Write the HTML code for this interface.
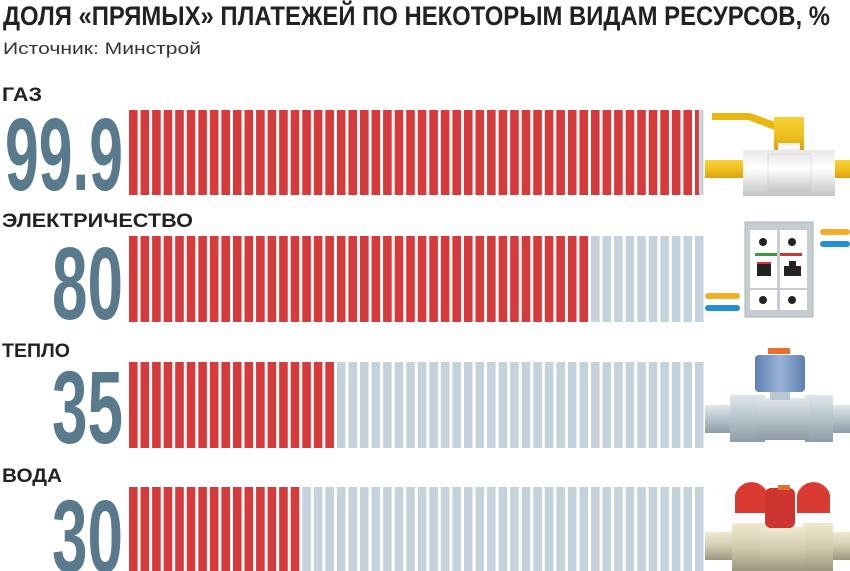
<!DOCTYPE html>
<html><head><meta charset="utf-8"><style>
html,body{margin:0;padding:0;background:#fff;width:850px;height:571px;overflow:hidden}
svg{display:block}
text{font-family:"Liberation Sans","DejaVu Sans",sans-serif}
</style></head><body>
<svg width="850" height="571" viewBox="0 0 850 571" xmlns="http://www.w3.org/2000/svg">
<defs>
<linearGradient id="yel" x1="0" y1="0" x2="0" y2="1"><stop offset="0" stop-color="#f5d23a"/><stop offset="0.5" stop-color="#f0c020"/><stop offset="1" stop-color="#d9a30a"/></linearGradient>
<linearGradient id="wht" x1="0" y1="0" x2="0" y2="1"><stop offset="0" stop-color="#e8e8e8"/><stop offset="0.4" stop-color="#ffffff"/><stop offset="1" stop-color="#c4c4c4"/></linearGradient>
<linearGradient id="gry" x1="0" y1="0" x2="0" y2="1"><stop offset="0" stop-color="#dfe6ea"/><stop offset="0.5" stop-color="#b6c3cb"/><stop offset="1" stop-color="#8d9ca6"/></linearGradient>
<linearGradient id="bei" x1="0" y1="0" x2="0" y2="1"><stop offset="0" stop-color="#eee8cf"/><stop offset="0.5" stop-color="#d2ccb0"/><stop offset="1" stop-color="#9c977f"/></linearGradient>
<linearGradient id="blu" x1="0" y1="0" x2="1" y2="0"><stop offset="0" stop-color="#5d7fb0"/><stop offset="0.5" stop-color="#9ab3d6"/><stop offset="1" stop-color="#5d7fb0"/></linearGradient>
</defs>
<text x="3" y="25" font-size="27" font-weight="bold" fill="#222" textLength="827" lengthAdjust="spacingAndGlyphs">ДОЛЯ «ПРЯМЫХ» ПЛАТЕЖЕЙ ПО НЕКОТОРЫМ ВИДАМ РЕСУРСОВ, %</text>
<text x="3" y="54" font-size="17" fill="#333" textLength="198" lengthAdjust="spacingAndGlyphs">Источник: Минстрой</text>

<text x="2" y="101" font-size="19" font-weight="bold" fill="#222" textLength="40" lengthAdjust="spacingAndGlyphs">ГАЗ</text>
<text x="2" y="227" font-size="19" font-weight="bold" fill="#222" textLength="191" lengthAdjust="spacingAndGlyphs">ЭЛЕКТРИЧЕСТВО</text>
<text x="2" y="357" font-size="19" font-weight="bold" fill="#222" textLength="68" lengthAdjust="spacingAndGlyphs">ТЕПЛО</text>
<text x="2" y="482" font-size="19" font-weight="bold" fill="#222" textLength="60" lengthAdjust="spacingAndGlyphs">ВОДА</text>

<g font-size="103" font-weight="bold" fill="#587a8c">
<text x="5" y="190" textLength="118" lengthAdjust="spacingAndGlyphs">99.9</text>
<text x="52" y="319" textLength="71" lengthAdjust="spacingAndGlyphs">80</text>
<text x="52" y="443" textLength="71" lengthAdjust="spacingAndGlyphs">35</text>
<text x="52" y="572" textLength="71" lengthAdjust="spacingAndGlyphs">30</text>
</g>

<g id="bars"></g>

<!-- gas icon -->
<rect x="705" y="160" width="145" height="18" fill="url(#yel)"/>
<path d="M712 113 L750 113 L778 123 L775 130 L748 120 L712 120 Z" fill="#e8b810"/>
<rect x="774" y="117" width="30" height="35" fill="url(#yel)"/>
<rect x="778" y="143" width="22" height="12" fill="url(#wht)"/>
<rect x="743" y="150" width="92" height="46" fill="url(#wht)"/>
<rect x="768" y="154" width="43" height="38" fill="url(#wht)" stroke="#ccc" stroke-width="0.5"/>

<!-- electric icon -->
<rect x="705" y="293" width="35" height="6" rx="3" fill="#f2b027"/>
<rect x="705" y="305" width="35" height="6" rx="3" fill="#2590d0"/>
<rect x="820" y="229" width="30" height="6" rx="3" fill="#f2b027"/>
<rect x="820" y="241" width="30" height="6" rx="3" fill="#2590d0"/>
<rect x="745" y="222" width="68" height="95" fill="#c5ccd2" stroke="#aab3ba"/>
<rect x="750" y="230" width="27" height="80" fill="#fff"/>
<rect x="780" y="230" width="27" height="80" fill="#fff"/>
<rect x="745" y="288" width="68" height="2" fill="#c5ccd2"/>
<circle cx="763" cy="242" r="4" fill="#222"/><circle cx="792" cy="242" r="4" fill="#222"/>
<circle cx="763" cy="300" r="4" fill="#222"/><circle cx="792" cy="300" r="4" fill="#222"/>
<rect x="755" y="253" width="22" height="3" fill="#3a9a3a"/><rect x="780" y="253" width="22" height="3" fill="#cc3333"/>
<rect x="757" y="262" width="14" height="14" fill="#222"/><rect x="757" y="262" width="14" height="2" fill="#e03040"/>
<path d="M784 276 L784 266 L789 266 L789 261 L796 261 L796 266 L801 266 L801 276 Z" fill="#222"/>

<!-- heat icon -->
<rect x="705" y="405" width="145" height="28" fill="url(#gry)"/>
<rect x="730" y="395" width="35" height="47" fill="url(#gry)"/>
<rect x="805" y="395" width="28" height="47" fill="url(#gry)"/>
<rect x="757" y="398" width="52" height="42" fill="url(#gry)"/>
<rect x="770" y="390" width="20" height="10" fill="#b8c8d2"/>
<rect x="755" y="355" width="50" height="37" rx="4" fill="url(#blu)"/>
<rect x="768" y="348" width="22" height="6" fill="#e8702a"/>

<!-- water icon -->
<rect x="705" y="532" width="145" height="28" fill="url(#bei)"/>
<rect x="732" y="523" width="35" height="48" fill="url(#bei)"/>
<rect x="803" y="523" width="30" height="48" fill="url(#bei)"/>
<rect x="760" y="527" width="45" height="44" fill="url(#bei)"/>
<path d="M735 513 L735 495 A17 17 0 0 1 768 495 L768 513 Z" fill="#d93a32"/>
<path d="M797 513 L797 495 A17 17 0 0 1 830 495 L830 513 Z" fill="#d93a32"/>
<rect x="765" y="488" width="30" height="40" rx="6" fill="#cf3530"/>
<rect x="778" y="485" width="12" height="5" fill="#e8702a"/>
</svg>
<script>
var g=document.getElementById('bars'),ns='http://www.w3.org/2000/svg';
var rows=[[110,195,49.95],[236,322,40],[362,448,17.5],[487,571,15]];
rows.forEach(function(r){
 for(var i=0;i<50;i++){
  var x=129+i*11.55;
  var red=i+1<=r[2]+0.001;
  var half=!red && i<r[2];
  var e=document.createElementNS(ns,'rect');
  e.setAttribute('x',x);e.setAttribute('y',r[0]);
  e.setAttribute('width',(i==49&&r[2]>49)?4:8.6);e.setAttribute('height',r[1]-r[0]);
  e.setAttribute('fill',(red||half)?'#d63a3a':'#c4d2db');
  g.appendChild(e);
  if(i==49&&r[2]>49){var b=document.createElementNS(ns,'rect');b.setAttribute('x',x+4.5);b.setAttribute('y',r[0]);b.setAttribute('width',4);b.setAttribute('height',r[1]-r[0]);b.setAttribute('fill','#c4d2db');g.appendChild(b);}
 }
});
</script>
</body></html>
